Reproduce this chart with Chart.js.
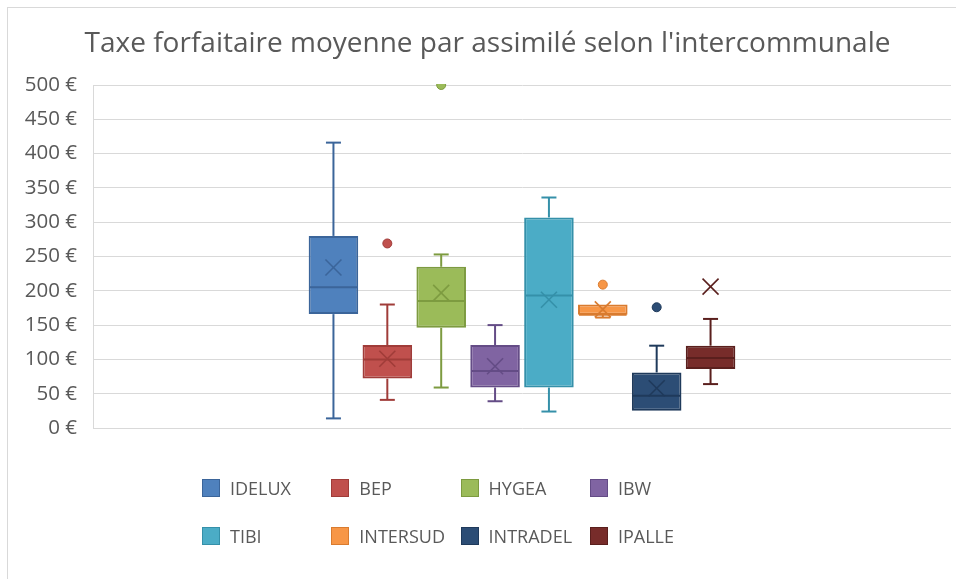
<!DOCTYPE html>
<html>
<head>
<meta charset="utf-8">
<script src="https://cdn.jsdelivr.net/npm/chart.js@4/dist/chart.umd.min.js"></script>
<style>
html,body{margin:0;padding:0;background:#fff;}
#wrap{position:relative;width:956px;height:579px;overflow:hidden;background:#fff;}
#frame{position:absolute;left:7px;top:7px;width:980px;height:620px;border:1px solid #D9D9D9;box-sizing:border-box;pointer-events:none;}
#c{position:absolute;left:0;top:0;}
.lg{position:absolute;height:20px;display:flex;align-items:center;font-family:"Open Sans",sans-serif;font-size:18px;color:#595959;white-space:nowrap;}
.lg span.sw{display:inline-block;width:16px;height:16px;border:1px solid;margin-right:10px;}
</style>
</head>
<body>
<div id="wrap">
  <div id="frame"></div>
  <canvas id="c" width="956" height="579"></canvas>
  <div id="legend"></div>
</div>
<script>
// ---- data ----
const titleText = "Taxe forfaitaire moyenne par assimilé selon l'intercommunale";
const series = ['IDELUX', 'BEP', 'HYGEA', 'IBW', 'TIBI', 'INTERSUD', 'INTRADEL', 'IPALLE'];
const whiskerMin = [14, 41, 59, 39, 24, 161, 25, 64];
const q1 = [166, 72, 146, 59, 59, 165, 25, 86];
const median = [205, 100, 185, 83, 193, 165, 47, 102];
const q3 = [280, 121, 235, 121, 307, 180, 81, 120];
const whiskerMax = [416, 180, 253, 150, 336, 180, 120, 159];
const mean = [234, 101, 197, 90, 187, 173, 58, 206];
const outliers = [[], [269], [500], [], [], [209], [176], []];
const tickValues = [0, 50, 100, 150, 200, 250, 300, 350, 400, 450, 500];
const tickLabels = ['0 €', '50 €', '100 €', '150 €', '200 €', '250 €', '300 €', '350 €', '400 €', '450 €', '500 €'];

// ---- styles ----
const fillCol = ['#4F81BD', '#C0504D', '#9BBB59', '#8064A2', '#4BACC6', '#F79646', '#2C4D75', '#772C2A'];
const lineCol = ['#3B659A', '#A03C39', '#7D9B40', '#644C86', '#3590A9', '#D97B2F', '#1F3A5B', '#5A1F1D'];
const textCol = '#595959';
const fontFam = '"Open Sans", sans-serif';

// ---- legend (HTML, real text) ----
const legend = document.getElementById('legend');
series.forEach((name, i) => {
  const col = i % 4, row = Math.floor(i / 4);
  const d = document.createElement('div');
  d.className = 'lg';
  d.style.left = (202 + col * 129.3) + 'px';
  d.style.top = ((row ? 536 : 488) - 10) + 'px';
  const sw = document.createElement('span');
  sw.className = 'sw';
  sw.style.background = fillCol[i];
  sw.style.borderColor = lineCol[i];
  d.appendChild(sw);
  d.appendChild(document.createTextNode(name));
  legend.appendChild(d);
});

// ---- box plot extras drawn through the scales ----
const boxExtras = {
  id: 'boxExtras',
  afterDatasetsDraw(chart) {
    const ctx = chart.ctx, y = chart.scales.y, a = chart.chartArea;
    ctx.save();
    ctx.beginPath();
    ctx.rect(a.left, a.top - 1, a.right - a.left, a.bottom - a.top + 2);
    ctx.clip();
    const seg = (x1, y1, x2, y2) => { ctx.beginPath(); ctx.moveTo(x1, y1); ctx.lineTo(x2, y2); ctx.stroke(); };
    series.forEach((name, i) => {
      const el = chart.getDatasetMeta(i).data[0];
      const cx = el.x, half = el.width / 2;
      const cap = 7.5;
      ctx.strokeStyle = lineCol[i];
      ctx.lineWidth = 2;
      const yq1 = y.getPixelForValue(q1[i]), yq3 = y.getPixelForValue(q3[i]);
      const ylo = y.getPixelForValue(whiskerMin[i]), yhi = y.getPixelForValue(whiskerMax[i]);
      if (whiskerMax[i] > q3[i]) { seg(cx, yq3, cx, yhi); seg(cx - cap, yhi, cx + cap, yhi); }
      if (whiskerMin[i] < q1[i]) { seg(cx, yq1, cx, ylo); seg(cx - cap, ylo, cx + cap, ylo); }
      const ym = y.getPixelForValue(median[i]);
      seg(cx - half + 1, ym, cx + half - 1, ym);
      // mean marker X
      const ya = y.getPixelForValue(mean[i]);
      const s = 8;
      ctx.lineWidth = 1.6;
      seg(cx - s, ya - s, cx + s, ya + s);
      seg(cx - s, ya + s, cx + s, ya - s);
      // outliers
      outliers[i].forEach(v => {
        const yo = y.getPixelForValue(v);
        ctx.beginPath();
        ctx.arc(cx, yo, 4.5, 0, Math.PI * 2);
        ctx.fillStyle = fillCol[i];
        ctx.fill();
        ctx.lineWidth = 1;
        ctx.strokeStyle = lineCol[i];
        ctx.stroke();
      });
    });
    ctx.restore();
  }
};

const datasets = series.map((name, i) => ({
  label: name,
  data: [[q1[i], q3[i]]],
  backgroundColor: fillCol[i],
  borderColor: lineCol[i],
  borderWidth: 2,
  borderSkipped: false,
  categoryPercentage: 0.5023,
  barPercentage: 0.92
}));

new Chart(document.getElementById('c'), {
  type: 'bar',
  data: { labels: [''], datasets },
  plugins: [boxExtras],
  options: {
    responsive: false,
    animation: false,
    devicePixelRatio: 1,
    layout: { padding: { left: 24, right: 5, top: 26, bottom: 151 } },
    plugins: {
      legend: { display: false },
      tooltip: { enabled: false },
      title: {
        display: true,
        text: titleText,
        color: textCol,
        font: { family: fontFam, size: 28, weight: 'normal' },
        padding: { top: 1, bottom: 24.4 }
      }
    },
    scales: {
      x: { display: false, stacked: false },
      y: {
        min: 0, max: 500,
        afterFit(scale) { scale.width = 69; },
        afterBuildTicks(scale) { scale.ticks = tickValues.map(v => ({ value: v })); },
        ticks: {
          color: textCol,
          padding: 16,
          font: { family: fontFam, size: 20.5 },
          callback: (v) => { const k = tickValues.indexOf(v); return k >= 0 ? tickLabels[k] : ''; }
        },
        grid: { color: '#D9D9D9', lineWidth: 1, drawTicks: false },
        border: { display: true, color: '#D9D9D9', width: 1 }
      }
    }
  }
});
</script>
</body>
</html>
